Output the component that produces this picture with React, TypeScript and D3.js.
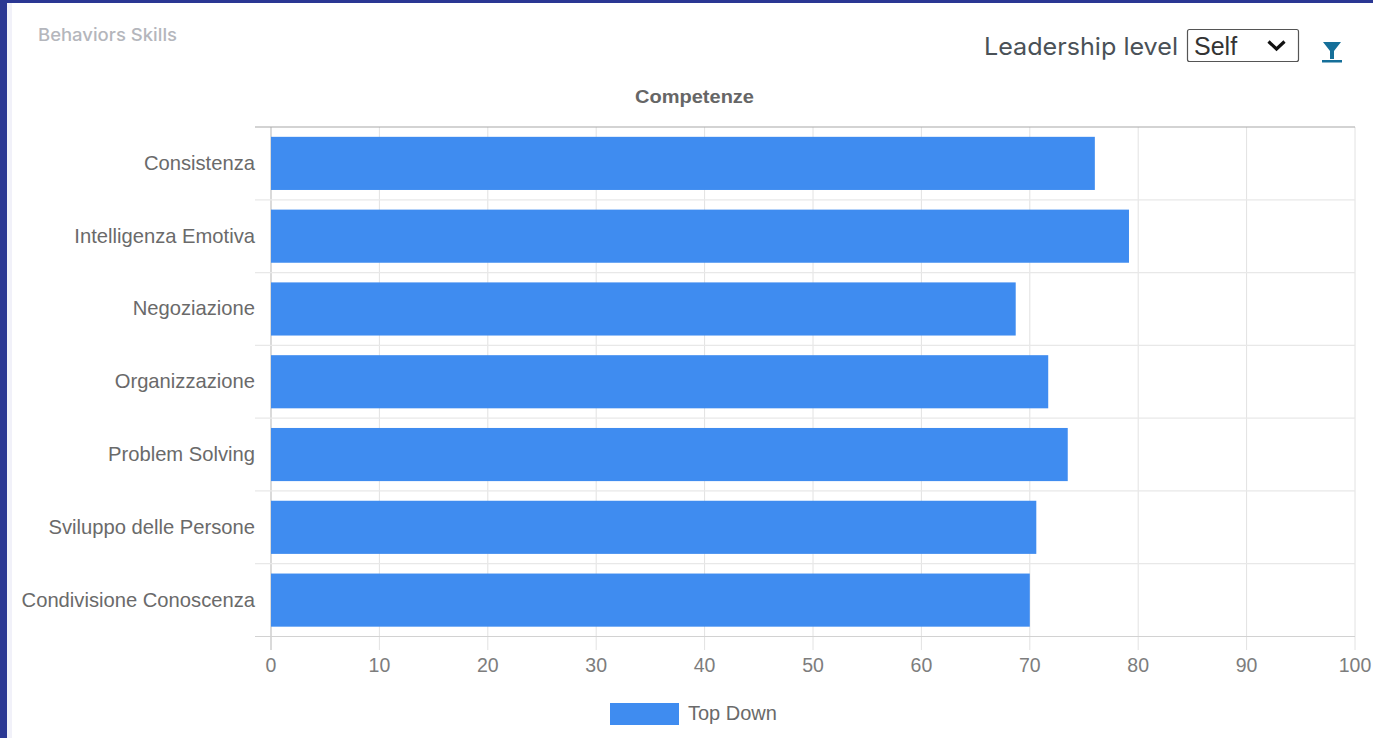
import React from "react";
import * as d3 from "d3";

const categories = ["Consistenza", "Intelligenza Emotiva", "Negoziazione", "Organizzazione", "Problem Solving", "Sviluppo delle Persone", "Condivisione Conoscenza"];
const topDown = [76.0, 79.15, 68.7, 71.7, 73.5, 70.6, 70.0];
const xTicks = [0, 10, 20, 30, 40, 50, 60, 70, 80, 90, 100];
const seriesName = "Top Down";
const chartTitle = "Competenze";
const cardTitle = "Behaviors Skills";
const filterLabel = "Leadership level";
const filterValue = "Self";

const W = 1373, H = 738;
const font = "Arial, 'Liberation Sans', sans-serif";

export default function App() {
  const x = d3.scaleLinear().domain([0, 100]).range([271, 1355]);
  const y = d3.scaleBand().domain(categories).range([127, 636.5]).paddingInner(0.27).paddingOuter(0.135);
  const bounds = d3.range(categories.length + 1).map((i) => 127 + (i * (636.5 - 127)) / categories.length);
  return (
    <svg width={W} height={H} viewBox={`0 0 ${W} ${H}`} style={{ position: "fixed", left: 0, top: 0, display: "block" }}>
      <rect width={W} height={H} fill="#2a3793" />
      <rect x={7} y={3} width={W - 7} height={H - 3} fill="#ffffff" />
      <rect x={7} y={3} width={5} height={H - 3} fill="#f1f1f9" />
      <text x={38} y={41} fontFamily="Inter, sans-serif" fontSize={17} fontWeight={500} fill="#b4b6bc" textLength={139} lengthAdjust="spacingAndGlyphs">{cardTitle}</text>
      <text x={984} y={55} fontFamily="Inter, sans-serif" fontSize={24} fill="#4a5157" textLength={194} lengthAdjust="spacingAndGlyphs">{filterLabel}</text>
      <rect x={1187.5} y={29.5} width={111} height={32} rx={2} fill="#fff" stroke="#555" strokeWidth={1.2} />
      <text x={1194} y={55} fontFamily={font} fontSize={25} fill="#333">{filterValue}</text>
      <path d="M1268.5 41.5 L1276.5 49 L1284.5 41.5" fill="none" stroke="#111" strokeWidth={3.2} />
      <path d="M1323 42 H1341 L1334 51 V59 H1330 V51 Z" fill="#156f99" />
      <rect x={1322} y={60} width={20} height={2.5} fill="#156f99" />
      <text x={694.5} y={102.5} textAnchor="middle" fontFamily={font} fontSize={19} fontWeight={700} fill="#666" textLength={119} lengthAdjust="spacingAndGlyphs">{chartTitle}</text>

      {xTicks.map((t) => (
        <line key={t} x1={x(t)} x2={x(t)} y1={127} y2={650} stroke={t === 0 ? "#b5b5b5" : "#e2e2e2"} strokeWidth={1} />
      ))}
      {bounds.map((b, i) => (
        <line key={i} x1={255} x2={1355} y1={b} y2={b} stroke={i === 0 ? "#a8a8a8" : i === categories.length ? "#d2d2d2" : "#e8e8e8"} strokeWidth={1.2} />
      ))}
      {categories.map((c, i) => (
        <rect key={c} x={x(0)} y={y(c)} width={x(topDown[i]) - x(0)} height={y.bandwidth()} fill="#3f8cf0" />
      ))}
      {categories.map((c) => (
        <text key={c} x={255} y={y(c)! + y.bandwidth() / 2 + 6.5} textAnchor="end" fontFamily={font} fontSize={20.2} fill="#6a6a6a">{c}</text>
      ))}
      {xTicks.map((t) => (
        <text key={t} x={x(t)} y={672} textAnchor="middle" fontFamily={font} fontSize={19.5} fill="#7d7d7d">{t}</text>
      ))}
      <rect x={610} y={703} width={69} height={22} fill="#3f8cf0" />
      <text x={688} y={720} fontFamily={font} fontSize={20} fill="#6a6a6a">{seriesName}</text>
    </svg>
  );
}
